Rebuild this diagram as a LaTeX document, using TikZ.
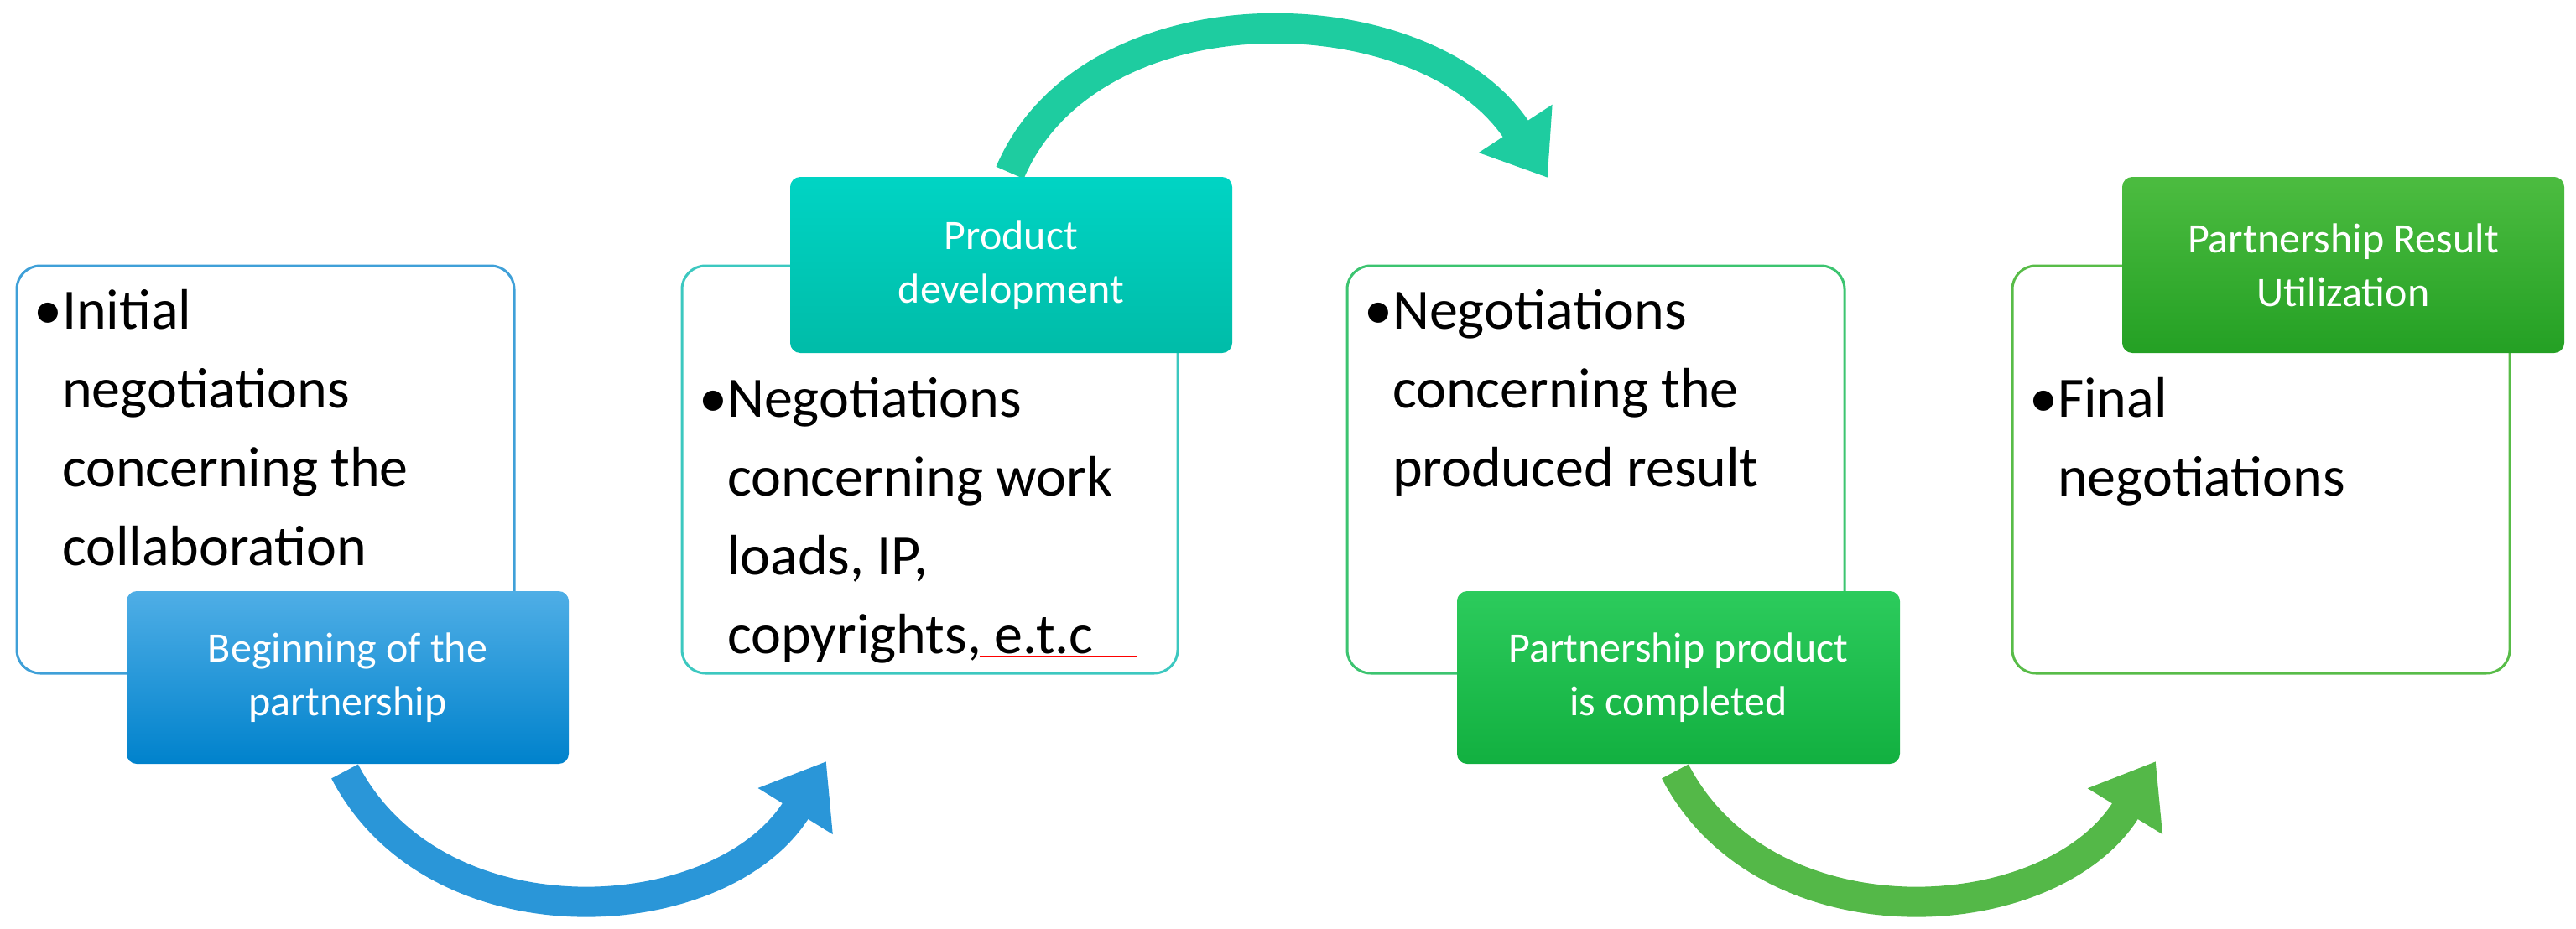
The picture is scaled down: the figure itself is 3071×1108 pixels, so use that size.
\documentclass[tikz,border=0pt]{standalone}
\usepackage{fontspec}
\setmainfont{Carlito}
\usetikzlibrary{arrows.meta}
\definecolor{b1}{HTML}{3FA0D8}\definecolor{l1t}{HTML}{4FAEE6}\definecolor{l1b}{HTML}{0082CC}
\definecolor{b2}{HTML}{3CC8C0}\definecolor{l2t}{HTML}{00D4C4}\definecolor{l2b}{HTML}{00BCA8}
\definecolor{b3}{HTML}{3CC470}\definecolor{l3t}{HTML}{2CCB5C}\definecolor{l3b}{HTML}{12B040}
\definecolor{b4}{HTML}{58BC48}\definecolor{l4t}{HTML}{4CBC40}\definecolor{l4b}{HTML}{24A024}
\definecolor{a1}{HTML}{2A96D8}\definecolor{a2}{HTML}{1ECCA0}\definecolor{a3}{HTML}{3AAA34}\definecolor{a4}{HTML}{54B848}
\tikzset{
 box/.style={draw=#1,line width=3pt,rounded corners=28pt,fill=white},
 lab/.style={rounded corners=12pt,text=white,font=\fontsize{50}{64}\selectfont,align=center},
 body/.style={anchor=north west,align=left,font=\fontsize{68}{94}\selectfont,inner sep=0pt},
 arr/.style={line width=36pt,draw=#1,-{Triangle[length=70pt,width=100pt]}}
}
\newcommand{\bp}{\phantom{\textbullet}}
\begin{document}
\begin{tikzpicture}[x=1pt,y=-1pt]
\useasboundingbox (0,0) rectangle (3071,1108);
% arrows
\coordinate (s1) at (411,920); \coordinate (e1) at (985,908);
\draw[arr=a1] (s1) .. controls (520,1130) and (860,1110) .. (e1);
\coordinate (s2) at (1204,206); \coordinate (e2) at (1845,212);
\draw[arr=a2] (s2) .. controls (1300,-20) and (1700,-10) .. (e2);
\coordinate (s3) at (1997,920); \coordinate (e3) at (2570,908);
\draw[arr=a4] (s3) .. controls (2106,1130) and (2446,1110) .. (e3);
% boxes
\draw[box=b1] (20,317) rectangle (613,803) coordinate (B1);
\draw[box=b2] (813,317) rectangle (1404,803);
\draw[box=b3] (1606,317) rectangle (2199,803);
\draw[box=b4] (2399,317) rectangle (2992,803);
% body text
\node[body] (t1) at (40,345) {\textbullet Initial\\\bp negotiations\\\bp concerning the\\\bp collaboration};
\node[body] (t2) at (833,450) {\textbullet Negotiations\\\bp concerning work\\\bp loads, IP,\\\bp copyrights, e.t.c};
\node[body] (t3) at (1626,345) {\textbullet Negotiations\\\bp concerning the\\\bp produced result};
\node[body] (t4) at (2419,450) {\textbullet Final\\\bp negotiations};
\draw[red,line width=2pt] (1168,783) -- (1356,783);
% labels
\node[lab,top color=l1t,bottom color=l1b,minimum width=527pt,minimum height=206pt] (L1) at (414.5,808) {Beginning of the\\partnership};
\node[lab,top color=l2t,bottom color=l2b,minimum width=527pt,minimum height=210pt] (L2) at (1205.5,316) {Product\\development};
\node[lab,top color=l3t,bottom color=l3b,minimum width=528pt,minimum height=206pt] (L3) at (2001,808) {Partnership product\\is completed};
\node[lab,top color=l4t,bottom color=l4b,minimum width=527pt,minimum height=210pt] (L4) at (2793.5,316) {Partnership Result\\Utilization};
\end{tikzpicture}
\end{document}
